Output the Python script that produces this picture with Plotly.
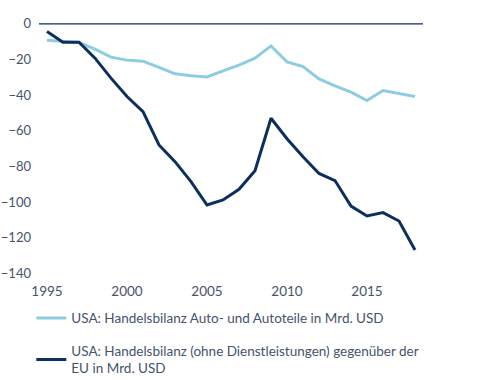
import plotly.graph_objects as go

years = [str(y) for y in range(1995, 2019)]
auto_parts = [-9.2, -9.9, -10.5, -14.2, -18.7, -20.4, -21.0, -24.5, -28.1, -29.2,
              -29.8, -26.4, -23.2, -19.3, -12.4, -21.4, -24.0, -30.9, -34.9, -38.4,
              -43.1, -37.5, -39.0, -40.8]
eu_balance = [-4.3, -10.3, -10.3, -19.3, -30.5, -40.8, -49.3, -68.0, -77.4, -88.6,
              -101.7, -98.9, -92.9, -82.5, -53.0, -64.5, -74.6, -84.0, -88.0, -102.3,
              -107.9, -106.0, -110.7, -127.0]
name_auto = "USA: Handelsbilanz Auto- und Autoteile in Mrd. USD"
name_eu = "USA: Handelsbilanz (ohne Dienstleistungen) gegenüber der<br>EU in Mrd. USD"
x_ticks = ["1995", "2000", "2005", "2010", "2015"]
y_ticks = [0, -20, -40, -60, -80, -100, -120, -140]

light = "#8ECDDF"
dark = "#0C2F5E"
text_col = "#46536B"

fig = go.Figure()
fig.add_trace(go.Scatter(x=years, y=auto_parts, mode="lines", name=name_auto,
                         legendgroup="a", line=dict(color=light, width=3)))
fig.add_trace(go.Scatter(x=years, y=eu_balance, mode="lines", name=name_eu,
                         legendgroup="b", line=dict(color=dark, width=3)))

# zero reference line across the plot area
fig.add_hline(y=0, line=dict(color=dark, width=1.2), layer="below")

fig.update_layout(
    width=478, height=381,
    margin=dict(l=39, r=55, t=22, b=106, autoexpand=False),
    paper_bgcolor="white", plot_bgcolor="white",
    font=dict(family="Lato, sans-serif", size=13.5, color=text_col),
    showlegend=True,
    legend=dict(x=-0.02, xanchor="left", y=-0.11, yanchor="top",
                tracegroupgap=12, traceorder="grouped",
                font=dict(size=13.5, color=text_col), itemwidth=30),
)
fig.update_xaxes(type="category", tickmode="array", tickvals=x_ticks, ticktext=x_ticks,
                 showgrid=False, showline=False, ticks="", range=[-0.5, 23.5],
                 ticklabelstandoff=6, automargin=False)
fig.update_yaxes(range=[-141, 1], tickmode="array", tickvals=y_ticks,
                 showgrid=False, showline=False, ticks="", zeroline=False,
                 tickfont=dict(size=13), ticklabelstandoff=7, automargin=False)

fig.write_html("out.html", config={"displayModeBar": False},
               post_script="document.body.style.margin='0';document.body.style.padding='0';")
